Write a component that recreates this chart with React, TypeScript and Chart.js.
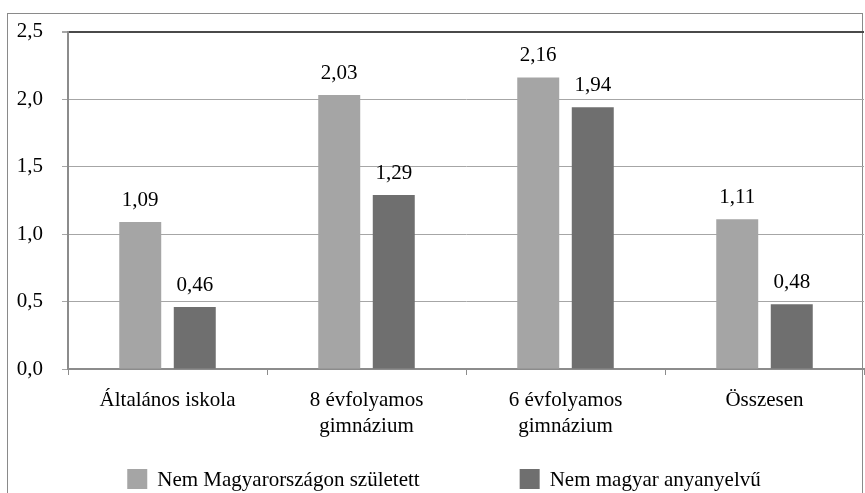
import React, { useEffect, useRef } from "react";
import { Chart, registerables } from "chart.js";

Chart.register(...registerables);

const categories: (string | string[])[] = [
  "Általános iskola",
  ["8 évfolyamos", "gimnázium"],
  ["6 évfolyamos", "gimnázium"],
  "Összesen",
];
const seriesNames = ["Nem Magyarországon született", "Nem magyar anyanyelvű"];
const bornAbroad = [1.09, 2.03, 2.16, 1.11];
const nonHungarianNative = [0.46, 1.29, 1.94, 0.48];
const seriesColors = ["#a5a5a5", "#6f6f6f"];

const FONT = "'Liberation Serif', 'DejaVu Serif', serif";
const FS = 21;
const fmt = (v: number, d: number) => v.toFixed(d).replace(".", ",");

const valueLabels = {
  id: "valueLabels",
  afterDatasetsDraw(chart: any) {
    const ctx = chart.ctx;
    ctx.save();
    ctx.font = `${FS}px ${FONT}`;
    ctx.fillStyle = "#000";
    ctx.textAlign = "center";
    ctx.textBaseline = "alphabetic";
    chart.data.datasets.forEach((ds: any, i: number) => {
      const meta = chart.getDatasetMeta(i);
      meta.data.forEach((el: any, j: number) => {
        ctx.fillText(fmt(ds.data[j], 2), el.x, el.y - 16);
      });
    });
    ctx.restore();
  },
};

const customLegend = {
  id: "customLegend",
  afterDraw(chart: any) {
    const ctx = chart.ctx;
    ctx.save();
    ctx.font = `${FS}px ${FONT}`;
    const box = 20;
    const gap = 100;
    const items = chart.data.datasets.map((ds: any) => ({
      text: ds.label,
      color: ds.backgroundColor,
      w: box + 10 + ctx.measureText(ds.label).width,
    }));
    const total = items.reduce((a: number, it: any) => a + it.w, 0) + gap * (items.length - 1);
    let x = 444 - total / 2;
    const yc = 479;
    items.forEach((it: any) => {
      ctx.fillStyle = it.color;
      ctx.fillRect(x, yc - box / 2, box, box);
      ctx.fillStyle = "#000";
      ctx.textAlign = "left";
      ctx.textBaseline = "middle";
      ctx.fillText(it.text, x + box + 10, yc + 1);
      x += it.w + gap;
    });
    ctx.restore();
  },
};

export default function App() {
  const ref = useRef<HTMLCanvasElement | null>(null);
  useEffect(() => {
    if (!ref.current) return;
    const chart = new Chart(ref.current, {
      type: "bar",
      data: {
        labels: categories,
        datasets: [
          {
            label: seriesNames[0],
            data: bornAbroad,
            backgroundColor: seriesColors[0],
            categoryPercentage: 0.548,
            barPercentage: 0.77,
          },
          {
            label: seriesNames[1],
            data: nonHungarianNative,
            backgroundColor: seriesColors[1],
            categoryPercentage: 0.548,
            barPercentage: 0.77,
          },
        ],
      },
      options: {
        animation: false,
        responsive: false,
        devicePixelRatio: 1,
        layout: { padding: { left: 8, top: 31, right: 1, bottom: 44 } },
        plugins: {
          legend: { display: false },
          tooltip: { enabled: false },
        },
        scales: {
          x: {
            offset: true,
            grid: {
              offset: true,
              drawOnChartArea: false,
              drawTicks: true,
              tickLength: 6,
              color: "#8c8c8c",
            },
            border: { color: "#8c8c8c", width: 2 },
            ticks: {
              color: "#000",
              font: { family: FONT, size: FS, lineHeight: 1.22 },
              padding: 13,
              maxRotation: 0,
              autoSkip: false,
            },
            afterFit(s: any) {
              s.height = 80;
            },
          },
          y: {
            min: 0,
            max: 2.5,
            ticks: {
              stepSize: 0.5,
              color: "#000",
              font: { family: FONT, size: FS },
              padding: 19,
              callback: (v: any) => fmt(Number(v), 1),
            },
            grid: {
              tickLength: 6,
              color: (c: any) => (c.tick && c.tick.value === 2.5 ? "#4a4a4a" : "#a6a6a6"),
              lineWidth: (c: any) => (c.tick && c.tick.value === 2.5 ? 2 : 1),
              tickColor: "#a6a6a6",
            },
            border: { color: "#8c8c8c", width: 2 },
            afterFit(s: any) {
              s.width = 60;
            },
          },
        },
      },
      plugins: [valueLabels, customLegend],
    });
    return () => chart.destroy();
  }, []);

  return (
    <div style={{ position: "fixed", left: 0, top: 0, width: 865, height: 493, overflow: "hidden", background: "#fff" }}>
      <div
        style={{
          position: "absolute",
          left: 7,
          top: 13,
          width: 856,
          height: 520,
          border: "1px solid #8a8a8a",
          boxSizing: "border-box",
        }}
      />
      <canvas ref={ref} width={865} height={493} style={{ position: "absolute", left: 0, top: 0 }} />
    </div>
  );
}
